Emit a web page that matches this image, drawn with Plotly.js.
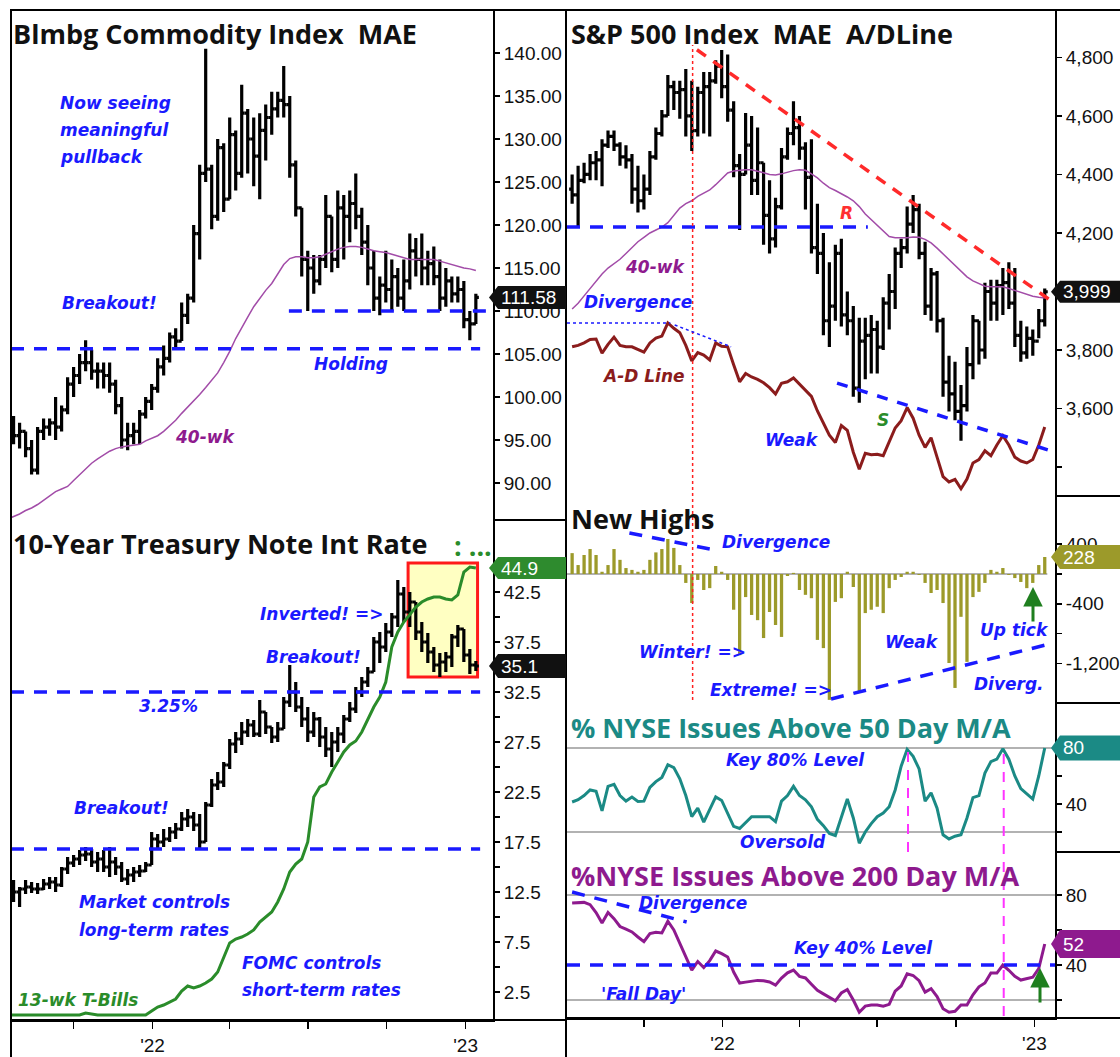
<!DOCTYPE html>
<html><head><meta charset="utf-8">
<script src="https://cdn.plot.ly/plotly-3.0.1.min.js"></script>
<style>html,body{margin:0;padding:0;background:#fff}#chart{width:1120px;height:1057px}</style>
</head><body><div id="chart"></div>
<script>
// ---------- DATA ----------
const weeks = ['2021-07-09','2021-07-16','2021-07-23','2021-07-30','2021-08-06','2021-08-13','2021-08-20','2021-08-27','2021-09-03','2021-09-10',
'2021-09-17','2021-09-24','2021-10-01','2021-10-08','2021-10-15','2021-10-22','2021-10-29','2021-11-05','2021-11-12','2021-11-19',
'2021-11-26','2021-12-03','2021-12-10','2021-12-17','2021-12-24','2021-12-31','2022-01-07','2022-01-14','2022-01-21','2022-01-28',
'2022-02-04','2022-02-11','2022-02-18','2022-02-25','2022-03-04','2022-03-11','2022-03-18','2022-03-25','2022-04-01','2022-04-08',
'2022-04-15','2022-04-22','2022-04-29','2022-05-06','2022-05-13','2022-05-20','2022-05-27','2022-06-03','2022-06-10','2022-06-17',
'2022-06-24','2022-07-01','2022-07-08','2022-07-15','2022-07-22','2022-07-29','2022-08-05','2022-08-12','2022-08-19','2022-08-26',
'2022-09-02','2022-09-09','2022-09-16','2022-09-23','2022-09-30','2022-10-07','2022-10-14','2022-10-21','2022-10-28','2022-11-04',
'2022-11-11','2022-11-18','2022-11-25','2022-12-02','2022-12-09','2022-12-16','2022-12-23','2022-12-30','2023-01-06','2023-01-13'];

// Bloomberg Commodity Index weekly bars
const comHigh = [null,null,97.8,97,96,95,96.5,97.5,97.5,100,
99,102.3,103.5,105,106.6,105.5,104,104,104,102,
100,97,97,98.5,100,101.5,104.5,106,107.5,108,
111,112,120,127,140.5,127,130,129.5,132.5,131,
136.3,133.5,132.5,133,134,135.5,135.5,138.5,135,127.5,
122,117,116.5,116.5,123.5,121,124,123.5,124,126,
122,120,117,114,117,116,115,116,119,118.5,
119,117,117.5,116,115,114,114,113.5,110,112];
const comLow = [null,null,94.5,94,93,91,91,95,95.5,95,
96,98,100,101.5,103,102,101,101,100.5,98,
94,93.8,94.5,94.5,97.5,98.5,100.5,102.5,104,105.5,
106.5,108.5,111,116,125,119.5,120.5,121.5,123,124,
125.5,126,124.5,123,127.5,130.5,132.5,132.5,125.5,121,
114,110,112,113,115,114.5,115,116,118,119.5,
116.5,113,110,109.5,111,110,110.5,110,112.5,114,
113,113,113,110,110.5,111,111,108,106.6,108.5];
const comClose = [null,null,95.5,96,94,91.5,96,96.5,97,96.5,
98.5,101.5,102.5,104,104,103,103,102.5,101.5,99,
95,95.5,96,98,99.5,101,103.5,104.5,107,106.5,
109.5,111.5,119,126,126.5,121,129,123,130.5,126,
133,130,128,131,132.5,133.5,134.5,134,127,122,
116,115,113.5,116,121,116,122,121,122.5,121,
118,115,111.5,113,112.5,114,111.5,113.5,117,116,
115,115.5,114,111.5,113.5,112,112.5,109,108.5,111.58];
const comOpen = [null,null,96.5,95.5,96,94,91.5,96,96.5,97,
96.5,98.5,101.5,102.5,104,104,103,103,102.5,101.5,
99,95,95.5,96,98,99.5,101,103.5,104.5,107,
106.5,109.5,111.5,119,126,126.5,121,129,123,130.5,
126,133,130,128,131,132.5,133.5,134.5,134,127,
122,116,115,113.5,116,121,116,122,121,122.5,
121,118,115,111.5,113,112.5,114,111.5,113.5,117,
116,115,115.5,114,111.5,113.5,112,112.5,109,108.5];
const comMA40 = [85.5,85.8,86.1,86.4,86.8,87.1,87.5,88,88.5,89,
89.3,89.6,90.3,91,91.7,92.3,92.8,93.3,93.7,94,
94.2,94.3,94.4,94.5,94.9,95.2,95.5,96,96.6,97.3,
98.1,98.8,99.5,100.3,101.1,101.9,102.8,104,105.3,106.8,
108.1,109.3,110.5,111.5,112.4,113.2,114.3,115.4,116.1,116.3,
116.3,116.2,116.2,116.3,116.6,116.9,117.2,117.4,117.5,117.5,
117.4,117.2,117,116.9,116.8,116.6,116.4,116.2,116,116,
116,116,116,115.8,115.6,115.4,115.2,115,114.9,114.7];
const comBreakoutLevel = 105.6, comHoldingLevel = 110;

// 10-Year Treasury Note rate (x10) weekly bars and 13-wk T-Bill (x10)
const tnxHigh = [null,null,13.7,13,13.7,13.5,13.4,13.8,14,14,
15,16,16.2,16.7,17,16.8,16.5,16.7,17,16,
15.5,14.8,15,15.2,15.5,18.5,18.3,18.8,19,19.4,
20.5,20.8,20.5,20.3,21.5,23.8,24.5,25.5,27.8,28.5,
29.5,29.8,29.7,31.7,30.5,29,29.5,32,35.2,33.5,
32,31,30.5,30,29,28.5,29,30.2,31.5,33,
34,35,38,38.5,39.4,40.4,43.7,43,42.5,41.5,
39.5,38.4,37,36.4,36.5,38.3,39.2,38.8,36.8,35.6];
const tnxLow = [null,null,11.5,11,12.3,12.4,12.3,12.7,12.8,12.5,
13,14.3,15,15.2,15.6,15,14.5,14.5,14,14.2,
13.5,13.2,13.5,14,14.5,15.2,16.8,17,17.5,17.8,
18.6,19,18.6,16.7,17.5,21,22.7,23,24.8,26.4,
27.2,28,28,28,28.3,27.4,27.5,28.8,31,30.5,
29,27.5,28,27,26,25,26.5,27.4,29.5,30.4,
32,33,34.5,35.4,36.5,38,39,39.5,39,37.7,
36.5,35.4,34.5,34,34.5,35,37,35.5,34.3,34.6];
const tnxClose = [null,null,12.5,12.8,13,12.8,12.8,13.3,13.5,13.2,
14.8,15.4,15.8,16.2,16.3,15.5,15.8,15,15.5,15,
13.8,14.2,14.5,14.6,15.2,17.8,17.5,17.8,18.5,18.8,
19.8,20,19.2,17.5,21.2,23.2,23.5,25.2,27.3,27.8,
28.5,29.2,28.3,30.5,29,28,28.8,31.5,32.5,31,
29.8,28.5,29.8,28,26.8,27.5,28.3,29.8,30.8,32.5,
33.5,34.5,37.5,37,38.5,40,42.3,40.5,41.5,38.5,
37.5,36.5,35.2,35.5,36,38,38.8,36.2,35.2,35.1];
const tnxOpen = [null,null,13,12.5,12.8,13,12.8,12.8,13.3,13.5,
13.2,14.8,15.4,15.8,16.2,16.3,15.5,15.8,15,15.5,
15,13.8,14.2,14.5,14.6,15.2,17.8,17.5,17.8,18.5,
18.8,19.8,20,19.2,17.5,21.2,23.2,23.5,25.2,27.3,
27.8,28.5,29.2,28.3,30.5,29,28,28.8,31.5,32.5,
31,29.8,28.5,29.8,28,26.8,27.5,28.3,29.8,30.8,
32.5,33.5,34.5,37.5,37,38.5,40,42.3,40.5,41.5,
38.5,37.5,36.5,35.2,35.5,36,38,38.8,36.2,35.2];
const tbill13 = [0.2,0.2,0.2,0.2,0.2,0.2,0.2,0.2,0.2,0.2,
0.2,0.2,0.2,0.2,0.4,0.3,0.2,0.2,0.2,0.2,
0.2,0.2,0.2,0.2,0.2,0.6,1.0,1.2,1.5,1.8,
2.6,3.1,2.9,3.1,3.4,3.8,4.5,6.0,7.4,7.8,
8,8.3,8.7,9.5,10,10.5,11.5,12.8,14.5,15.3,
15.8,17.5,22,23,23.3,24.5,25.5,26.5,27.2,27.6,
28.5,29.8,31,32,33.5,37,38.5,39.5,40.3,41,
41.5,41.8,42,42,41.8,41.7,42.2,44.5,45,44.9];
const tnxLevel = 32.5, tnxBreakLevel = 16.8;
const invertedBox = {x0:'2022-10-26', x1:'2023-01-15', y0:34.0, y1:45.4};

// S&P 500 weekly bars, 40-wk MA, A-D line (relative units)
const spxHigh = [4400,4430,4440,4470,4480,4520,4550,4550,4510,4500,
4470,4430,4400,4480,4560,4620,4740,4720,4720,4760,
4720,4700,4750,4750,4790,4825,4810,4650,4470,4610,
4600,4560,4440,4380,4320,4490,4560,4650,4600,4510,
4520,4300,4200,4100,4160,4180,4000,3950,3910,3910,
3920,3900,3980,4060,4150,4180,4290,4330,4300,4170,
4080,4070,3910,3780,3760,3680,3810,3920,3900,4030,
4040,4040,4080,4100,4080,3900,3880,3870,3940,4010];
const spxLow = [4300,4220,4370,4380,4380,4360,4490,4480,4430,4420,
4300,4270,4280,4330,4450,4530,4600,4620,4590,4530,
4480,4530,4540,4530,4710,4660,4580,4390,4210,4400,
4330,4330,4160,4130,4150,4280,4450,4500,4450,4280,
4130,4060,3850,3810,3900,3880,3850,3640,3620,3700,
3720,3720,3800,3870,3940,4080,4130,4200,4110,3920,
3900,3860,3640,3590,3560,3490,3590,3700,3750,3770,
3900,3900,3920,3940,3810,3760,3770,3780,3840,3880];
const spxClose = [4330,4380,4400,4440,4450,4500,4530,4500,4460,4450,
4350,4310,4350,4460,4540,4600,4700,4680,4690,4600,
4550,4680,4700,4720,4770,4700,4620,4430,4400,4500,
4380,4440,4260,4180,4290,4460,4540,4560,4490,4390,
4150,4130,3900,3950,4130,3920,3900,3670,3830,3850,
3870,3810,3960,4000,4130,4150,4230,4280,4130,3950,
4060,3900,3690,3650,3590,3610,3750,3900,3800,4000,
3960,4020,4030,3960,3850,3790,3840,3830,3900,3999];
const spxOpen = [4350,4330,4380,4400,4440,4450,4500,4530,4500,4460,
4450,4350,4310,4350,4460,4540,4600,4700,4680,4690,
4600,4550,4680,4700,4720,4770,4700,4620,4430,4400,
4500,4380,4440,4260,4180,4290,4460,4540,4560,4490,
4390,4150,4130,3900,3950,4130,3920,3900,3670,3830,
3850,3870,3810,3960,4000,4130,4150,4230,4280,4130,
3950,4060,3900,3690,3650,3590,3610,3750,3900,3800,
4000,3960,4020,4030,3960,3850,3790,3840,3830,3900];
const spxMA40 = [3940,3960,3985,4010,4035,4060,4080,4095,4110,4130,
4150,4170,4185,4200,4210,4220,4235,4260,4285,4300,
4310,4325,4335,4347,4365,4385,4405,4412,4415,4416,
4416,4412,4406,4400,4398,4402,4408,4413,4416,4414,
4402,4388,4370,4355,4345,4335,4323,4310,4290,4265,
4245,4225,4205,4188,4184,4183,4184,4186,4185,4178,
4166,4148,4128,4108,4090,4070,4050,4036,4026,4018,
4016,4016,4016,4010,4003,3996,3990,3984,3980,3978];
const adLine = [30.7,31,31.5,32.2,32.3,29.4,31.2,32.7,31,30.7,
30.7,30.2,29.6,31.5,32.5,32.9,35.6,34.5,33.6,31,
27.8,29.5,29,28,31.5,30.8,30.7,27,23.5,25.2,
24.5,24,23.3,22.3,21,23.2,23.5,24.3,23,21.8,
20.5,17.5,15,12.5,11,14.5,13.5,9,5.5,8.8,
8.5,8.6,8.3,11,14,15.5,18.2,16,12.5,10,
12,8,4,2.9,3.4,1.5,3.5,6.8,7.5,9.3,
8.3,10.5,12.4,10.5,8,7.2,6.8,7.5,10.5,14.2];
const spxSupportLevel = 4220;

// New Highs (net)
const newHighs = [280,120,255,335,255,30,120,335,190,80,
55,30,55,190,290,335,470,350,120,-120,
-390,-80,-215,-190,107,30,-80,-480,-1090,-310,
-550,-620,-860,-510,-685,-845,-27,15,-215,-280,
-325,-885,-995,-1690,-375,-325,30,-175,-1585,-525,
-480,-440,-525,-190,-80,-40,30,30,-13,-120,
-255,-215,-390,-1195,-1530,-575,-1180,-310,-240,-120,
55,30,80,-13,-55,-107,-190,-120,120,228];

// % NYSE issues above 50 / 200 day MA
const nyse50 = [41.4,43,46,50,49,35.1,52.6,54,46,42.1,
44.9,41.8,42,51.9,56,58.9,68,66,58,46,
31,37,27,36,45,42.5,33,24,22.5,27,
30.9,30.9,30.9,30.9,27.4,42,46,52.6,46,43,
38,29,24.5,19,17.5,30,43.5,30,12,20,
26,30.9,33.5,38,50,67,79,74,65,42,
48,37,18,15,17,18,30,44.5,46,62,
70.2,72,79.5,72,60,51,47,43.5,60,80];
const nyse200 = [75.4,75.7,75.8,74.5,70,64,70,66.5,62,60.5,
58.9,56,53.3,58,58.7,58.3,65,60,52.6,45,
37.1,42,38.5,42.5,48,46.5,44.6,36,29.7,30.2,
30.6,31.2,31,30.3,28.5,32.5,35.5,37.1,33.5,32.6,
29,25.5,23.5,21.5,19.5,24,26,20,13,16.5,
17.1,17.1,16.5,17.5,25,28,35,34,31,24.5,
26.5,22,15,13,13.5,17.1,17.1,23,27.5,29.7,
35.4,35.4,40,37,33.5,31.4,32.4,33,38,52];
const keyHigh = 80, keyLow = 20, key40 = 40;

const quarterTicks = ['2021-10-01','2022-01-01','2022-04-01','2022-07-01','2022-10-01','2023-01-01'];
const quarterText = ['',"'22",'','','',"'23"];

// ---------- LAYOUT HELPERS ----------
const W = 1120, H = 1057;
const PX = x => x / W;
const PY = y => 1 - y / H;
const BLUE = '#1a1aff', OLIVE = '#9c9a2a', TEAL = '#1b8a85', PURP = '#8e1a8e', GREEN = '#2a8c2a', MAPURP = '#a24ca8', ADRED = '#8b1c1c';

const dom = {
  com: [PY(520), PY(10)], tnx: [PY(1020), PY(520)],
  spx: [PY(496), PY(10)], nh: [PY(703), PY(496)],
  n50: [PY(852), PY(703)], n200: [PY(1018), PY(852)]
};
const rng = { com:[85.7,145], tnx:[-0.3,49.7], spx:[3301,4962], nh:[-1732,1047], n50:[5.7,112.1], n200:[9.7,104.6] };
const leftRange = ['2021-07-20','2023-02-02'];
const rightRange = ['2021-07-03','2023-01-25'];

const tickfont = {family:'Liberation Sans, Arial, sans-serif', size:19, color:'#111'};
function yax(domain, range, anchor, vals, text) {
  return {domain, range, anchor, side:'right', showline:true, linecolor:'#000', linewidth:2,
    ticks:'outside', ticklen:5, tickwidth:1.5, tickcolor:'#000', showgrid:false, zeroline:false,
    tickmode:'array', tickvals:vals, ticktext:text, tickfont, fixedrange:true};
}
function xax(domain, range, anchor) {
  return {domain, range, anchor, type:'date', showline:true, linecolor:'#000', linewidth:2,
    ticks:'outside', ticklen:7, tickwidth:1.5, tickcolor:'#000', showgrid:false, zeroline:false,
    tickmode:'array', tickvals:quarterTicks, ticktext:quarterText, tickfont, rangeslider:{visible:false}, fixedrange:true};
}

const comTicks = [90,95,100,105,110,115,120,125,130,135,140];
const tnxTicks = [2.5,5,7.5,10,12.5,15,17.5,20,22.5,25,27.5,30,32.5,35,37.5,40,42.5,45];
const spxTicks = [3400,3600,3800,4000,4200,4400,4600,4800];
const nhTicks = [400,0,-400,-800,-1200];
const pctTicks = [20,40,60,80];

// ---------- TRACES ----------
function ohlc(o,h,l,c,xa,ya){
  return {type:'ohlc', x:weeks, open:o, high:h, low:l, close:c, xaxis:xa, yaxis:ya,
    increasing:{line:{color:'#000', width:3.2}}, decreasing:{line:{color:'#000', width:3.2}},
    tickwidth:0.5, hoverinfo:'skip', showlegend:false};
}
function line(y, xa, ya, color, width){
  return {type:'scatter', mode:'lines', x:weeks, y, xaxis:xa, yaxis:ya, line:{color, width}, hoverinfo:'skip', showlegend:false, connectgaps:false};
}
const data = [
  ohlc(comOpen, comHigh, comLow, comClose, 'x', 'y'),
  line(comMA40, 'x', 'y', MAPURP, 1.5),
  ohlc(tnxOpen, tnxHigh, tnxLow, tnxClose, 'x', 'y2'),
  line(tbill13, 'x', 'y2', GREEN, 3),
  ohlc(spxOpen, spxHigh, spxLow, spxClose, 'x2', 'y3'),
  line(spxMA40, 'x2', 'y3', MAPURP, 1.5),
  line(adLine, 'x2', 'y4', ADRED, 3),
  {type:'bar', x:weeks, y:newHighs, xaxis:'x2', yaxis:'y5', marker:{color:OLIVE}, hoverinfo:'skip', showlegend:false},
  line(nyse50, 'x2', 'y6', TEAL, 3),
  line(nyse200, 'x2', 'y7', PURP, 3)
];

// ---------- SHAPES ----------
const dashB = {color:BLUE, width:3.5, dash:'13px,10px'};
const shapes = [
  {type:'rect', xref:'x', yref:'y2', x0:invertedBox.x0, x1:invertedBox.x1, y0:invertedBox.y0, y1:invertedBox.y1, fillcolor:'#ffffc2', line:{color:'#ff1a1a', width:3}, layer:'below'},
  {type:'line', xref:'x', yref:'y', x0:leftRange[0], x1:'2023-01-18', y0:comBreakoutLevel, y1:comBreakoutLevel, line:dashB},
  {type:'line', xref:'x', yref:'y', x0:'2022-06-09', x1:leftRange[1], y0:comHoldingLevel, y1:comHoldingLevel, line:dashB},
  {type:'line', xref:'x', yref:'y2', x0:leftRange[0], x1:'2023-01-18', y0:tnxLevel, y1:tnxLevel, line:dashB},
  {type:'line', xref:'x', yref:'y2', x0:leftRange[0], x1:'2023-01-18', y0:tnxBreakLevel, y1:tnxBreakLevel, line:dashB},
  {type:'line', xref:'x2', yref:'y3', x0:rightRange[0], x1:'2022-06-20', y0:spxSupportLevel, y1:spxSupportLevel, line:dashB},
  {type:'line', xref:'x2', yref:'y3', x0:'2021-12-02', x1:'2023-01-22', y0:4826, y1:3965, line:{color:'#ff2a2a', width:3.5, dash:'11px,9px'}},
  {type:'line', xref:'x2', yref:'y3', x0:'2022-05-15', x1:'2023-01-25', y0:3687, y1:3451, line:{color:BLUE, width:3.5, dash:'11px,10px'}},
  {type:'line', xref:'x2', yref:'paper', x0:'2021-11-27', x1:'2021-11-27', y0:PY(700), y1:PY(45), line:{color:'#ff2020', width:1.5, dash:'dot'}},
  {type:'line', xref:'x2', yref:'y4', x0:rightRange[0], x1:'2021-11-01', y0:35.6, y1:35.6, line:{color:BLUE, width:1.5, dash:'dot'}},
  {type:'line', xref:'x2', yref:'y4', x0:'2021-11-06', x1:'2022-01-11', y0:35.2, y1:30.7, line:{color:BLUE, width:1.5, dash:'dot'}},
  {type:'line', xref:'x2', yref:'y5', x0:rightRange[0], x1:'2023-01-16', y0:0, y1:0, line:{color:'#999', width:1.5}, layer:'below'},
  {type:'line', xref:'x2', yref:'y5', x0:'2021-09-14', x1:'2021-12-17', y0:550, y1:335, line:dashB},
  {type:'line', xref:'x2', yref:'y5', x0:'2022-05-08', x1:'2023-01-14', y0:-1678, y1:-953, line:dashB},
  {type:'line', xref:'x2', yref:'y6', x0:rightRange[0], x1:rightRange[1], y0:keyHigh, y1:keyHigh, line:{color:'#999', width:1.5}, layer:'below'},
  {type:'line', xref:'x2', yref:'y6', x0:rightRange[0], x1:rightRange[1], y0:keyLow, y1:keyLow, line:{color:'#999', width:1.5}, layer:'below'},
  {type:'line', xref:'x2', yref:'y7', x0:rightRange[0], x1:rightRange[1], y0:keyHigh, y1:keyHigh, line:{color:'#999', width:1.5}, layer:'below'},
  {type:'line', xref:'x2', yref:'y7', x0:rightRange[0], x1:rightRange[1], y0:keyLow, y1:keyLow, line:{color:'#999', width:1.5}, layer:'below'},
  {type:'line', xref:'x2', yref:'y7', x0:rightRange[0], x1:rightRange[1], y0:key40, y1:key40, line:dashB},
  {type:'line', xref:'x2', yref:'y7', x0:'2021-07-09', x1:'2021-11-20', y0:81.7, y1:64.6, line:dashB},
  {type:'line', xref:'x2', yref:'paper', x0:'2022-08-06', x1:'2022-08-06', y0:PY(852), y1:PY(748), line:{color:'#ff33ff', width:2, dash:'10px,8px'}},
  {type:'line', xref:'x2', yref:'paper', x0:'2022-11-26', x1:'2022-11-26', y0:PY(1016), y1:PY(748), line:{color:'#ff33ff', width:2, dash:'10px,8px'}}
];
// frame lines
function fl(x0,y0,x1,y1){ return {type:'line', xref:'paper', yref:'paper', x0:PX(x0), y0:PY(y0), x1:PX(x1), y1:PY(y1), line:{color:'#000', width:2}, layer:'above'}; }
shapes.push(fl(10,10,1120,10), fl(11,10,11,1057), fl(566,10,566,1057), fl(11,1020,566,1020), fl(566,1018,1120,1018),
  fl(493,520,566,520), fl(1055,496,1120,496), fl(1055,703,1120,703), fl(1055,852,1120,852));

// ---------- ANNOTATIONS ----------
const annotations = [];
const TF = 'Open Sans, sans-serif';
function title(text, x, y, color, size){ annotations.push({xref:'paper', yref:'paper', x:PX(x), y:PY(y), xanchor:'left', yanchor:'middle', showarrow:false, text,
  font:{family:TF, size:size||27, color:color||'#111', weight:'bold'}}); }
function note(text, x, y, color, size){ annotations.push({xref:'paper', yref:'paper', x:PX(x), y:PY(y), xanchor:'left', yanchor:'middle', showarrow:false, text,
  font:{family:'DejaVu Sans, Verdana, sans-serif', size:size||17, color:color||BLUE, weight:'bold', style:'italic'}}); }

title('Blmbg Commodity Index\u00a0\u00a0MAE', 11, 33);
title('10-Year Treasury Note Int Rate', 11, 543);
title(':\u00a0...', 452, 545, GREEN);
title('S&amp;P 500 Index\u00a0\u00a0MAE\u00a0\u00a0A/DLine', 569, 33);
title('New Highs', 569, 518);
title('% NYSE Issues Above 50 Day M/A', 569, 727, TEAL);
title('%NYSE Issues Above 200 Day M/A', 569, 875, PURP);

note('Now seeing', 58, 103); note('meaningful', 58, 130); note('pullback', 58, 157);
note('Breakout!', 60, 303); note('Holding', 312, 364); note('40-wk', 173, 437, PURP);
note('Inverted! =&gt;', 258, 614); note('Breakout!', 264, 657); note('3.25%', 137, 706);
note('Breakout!', 72, 808); note('Market controls', 77, 902); note('long-term rates', 77, 930);
note('FOMC controls', 240, 963); note('short-term rates', 240, 990); note('13-wk T-Bills', 16, 1000, GREEN);
note('R', 838, 213, '#ff3030'); note('40-wk', 623, 267, PURP); note('Divergence', 582, 302);
note('A-D Line', 600, 376, ADRED); note('Weak', 763, 440); note('S', 875, 420, GREEN);
note('Divergence', 720, 542); note('Winter! =&gt;', 637, 652); note('Extreme! =&gt;', 708, 690);
note('Weak', 883, 642); note('Up tick', 978, 630); note('Diverg.', 972, 684);
note('Key 80% Level', 724, 760); note('Oversold', 738, 842);
note('Divergence', 637, 903); note('Key 40% Level', 792, 948); note("'Fall Day'", 599, 994);

// green arrows
annotations.push({xref:'paper', yref:'paper', x:PX(1033), y:PY(587), ax:0, ay:36, text:'', showarrow:true, arrowhead:2, arrowsize:1.3, arrowwidth:3, arrowcolor:'#1f7f1f'});
annotations.push({xref:'paper', yref:'paper', x:PX(1040), y:PY(968), ax:0, ay:36, text:'', showarrow:true, arrowhead:2, arrowsize:1.3, arrowwidth:3, arrowcolor:'#1f7f1f'});

// value tags
function tag(val, range, domain, axPx, endPx, color, text, hPx){
  const yc = domain[0] + (val - range[0]) / (range[1] - range[0]) * (domain[1] - domain[0]);
  const hh = hPx / 2 / H;
  const x0 = PX(axPx - 4), x1 = PX(axPx + 5), x2 = PX(endPx);
  shapes.push({type:'path', xref:'paper', yref:'paper', layer:'above',
    path:`M${x0},${yc} L${x1},${yc+hh} L${x2},${yc+hh} L${x2},${yc-hh} L${x1},${yc-hh} Z`, fillcolor:color, line:{width:0}});
  annotations.push({xref:'paper', yref:'paper', x:PX(axPx + 6), y:yc, xanchor:'left', yanchor:'middle', showarrow:false, text,
    font:{family:'Liberation Sans, Arial, sans-serif', size:19, color:'#fff'}});
}
const last = a => a[a.length - 1];
tag(last(comClose), rng.com, dom.com, 493, 566, '#111', last(comClose).toFixed(2), 23);
tag(last(tbill13), rng.tnx, dom.tnx, 493, 566, '#2e8b2e', last(tbill13).toFixed(1), 22);
tag(last(tnxClose), rng.tnx, dom.tnx, 493, 566, '#111', last(tnxClose).toFixed(1), 24);
tag(last(spxClose), rng.spx, dom.spx, 1055, 1120, '#111', last(spxClose).toLocaleString('en-US'), 22);
tag(last(newHighs), rng.nh, dom.nh, 1055, 1120, OLIVE, String(last(newHighs)), 24);
tag(last(nyse50), rng.n50, dom.n50, 1055, 1120, TEAL, String(last(nyse50)), 25);
tag(last(nyse200), rng.n200, dom.n200, 1055, 1120, PURP, String(last(nyse200)), 28);

const layout = {
  width:W, height:H, margin:{l:0, r:0, t:0, b:0}, paper_bgcolor:'#fff', plot_bgcolor:'#fff',
  showlegend:false, hovermode:false, bargap:0.45,
  xaxis: xax([PX(11), PX(493)], leftRange, 'y2'),
  xaxis2: xax([PX(567), PX(1055)], rightRange, 'y7'),
  yaxis: yax(dom.com, rng.com, 'x', comTicks, comTicks.map(v => v.toFixed(2))),
  yaxis2: yax(dom.tnx, rng.tnx, 'x', tnxTicks, tnxTicks.map(v => (v % 5 === 0) ? '' : v.toFixed(1))),
  yaxis3: yax(dom.spx, rng.spx, 'x2', spxTicks, spxTicks.map(v => (v === 3400 || v === 4000) ? '' : v.toLocaleString('en-US'))),
  yaxis4: {overlaying:'y3', range:[0,100], anchor:'x2', visible:false, fixedrange:true},
  yaxis5: yax(dom.nh, rng.nh, 'x2', nhTicks, ['400','','-400','','-1,200']),
  yaxis6: yax(dom.n50, rng.n50, 'x2', pctTicks, ['','40','','']),
  yaxis7: yax(dom.n200, rng.n200, 'x2', pctTicks, ['','40','','80']),
  shapes, annotations
};
Plotly.newPlot('chart', data, layout, {staticPlot:true, displayModeBar:false});
</script>
</body></html>
